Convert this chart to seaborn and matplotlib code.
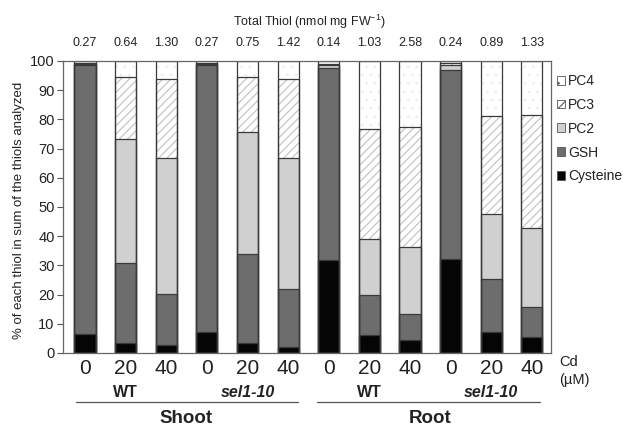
import matplotlib
matplotlib.use("Agg")
import matplotlib.pyplot as plt
from matplotlib.patches import Patch
import seaborn as sns
import pandas as pd
import numpy as np

#  Data (percent of each thiol)
bar_ids = ["S_WT_0", "S_WT_20", "S_WT_40", "S_sel_0", "S_sel_20", "S_sel_40",
           "R_WT_0", "R_WT_20", "R_WT_40", "R_sel_0", "R_sel_20", "R_sel_40"]
cd_labels = ["0", "20", "40", "0", "20", "40", "0", "20", "40", "0", "20", "40"]
total_thiol = ["0.27", "0.64", "1.30", "0.27", "0.75", "1.42",
               "0.14", "1.03", "2.58", "0.24", "0.89", "1.33"]

cysteine = [6.4, 3.3, 2.6, 7.1, 3.3, 2.2, 31.8, 6.2, 4.5, 32.3, 7.1, 5.4]
gsh      = [92.1, 27.4, 17.6, 91.4, 30.5, 19.6, 65.9, 13.7, 8.9, 64.6, 18.2, 10.2]
pc2      = [0.5, 42.5, 46.7, 0.5, 41.8, 45.1, 0.8, 19.1, 23.0, 1.7, 22.3, 27.2]
pc3      = [0.3, 21.4, 26.8, 0.3, 19.0, 26.8, 0.5, 37.6, 41.1, 0.6, 33.7, 38.7]
pc4      = [0.7, 5.4, 6.3, 0.7, 5.4, 6.3, 1.0, 23.4, 22.5, 0.8, 18.7, 18.5]

df = pd.DataFrame({"bar": bar_ids, "Cysteine": cysteine, "GSH": gsh,
                   "PC2": pc2, "PC3": pc3, "PC4": pc4})
layers = ["Cysteine", "GSH", "PC2", "PC3", "PC4"]
cum = df[layers].cumsum(axis=1)
cum["bar"] = df["bar"]

#  Style
sns.set_theme(style="white")
plt.rcParams["font.family"] = ["Liberation Sans", "DejaVu Sans"]
plt.rcParams["hatch.linewidth"] = 0.8
plt.rcParams["text.color"] = "#222222"
plt.rcParams["xtick.color"] = "#222222"
plt.rcParams["ytick.color"] = "#222222"
plt.rcParams["axes.labelcolor"] = "#222222"

face = {"Cysteine": "#050505", "GSH": "#6d6d6d", "PC2": "#d0d0d0",
        "PC3": "#ffffff", "PC4": "#ffffff"}
hatch = {"Cysteine": None, "GSH": None, "PC2": None, "PC3": "////", "PC4": ".."}
hcol = {"Cysteine": "#050505", "GSH": "#6d6d6d", "PC2": "#d0d0d0",
        "PC3": "#c0c0c0", "PC4": "#eeeeee"}
edge = "#3a3a3a"

fig = plt.figure(figsize=(6.23, 4.28), dpi=100)
ax = fig.add_axes([63 / 623, 1 - 353 / 428, 488 / 623, 292 / 428])

# filled layers, drawn from the top cumulative down
for lay in layers[::-1]:
    sns.barplot(data=cum, x="bar", y=lay, order=bar_ids, color=face[lay],
                saturation=1, errorbar=None, width=0.52, hatch=hatch[lay],
                edgecolor=hcol[lay], linewidth=0, ax=ax)
# outlines
for lay in layers[::-1]:
    sns.barplot(data=cum, x="bar", y=lay, order=bar_ids, color=edge,
                saturation=1, errorbar=None, width=0.52, fill=False,
                linewidth=0.9, ax=ax)

ax.set_xlim(-0.54, 11.47)
ax.set_ylim(0, 100)
ax.set_yticks(np.arange(0, 101, 10))
ax.tick_params(axis="y", labelsize=10.5, length=4, width=0.8, color="#555555",
               left=True, pad=2)
ax.set_xticks(range(len(bar_ids)))
ax.set_xticklabels(cd_labels, fontsize=15)
ax.tick_params(axis="x", length=0, pad=4)
for sp in ax.spines.values():
    sp.set_color("#666666")
    sp.set_linewidth(0.9)
ax.set_xlabel("")
ax.set_ylabel("% of each thiol in sum of the thiols analyzed", fontsize=9.5)
ax.yaxis.set_label_coords(-0.078, 0.49)

tr = ax.get_xaxis_transform()
for i, t in enumerate(total_thiol):
    ax.text(i, 1.062, t, transform=tr, ha="center", va="center", fontsize=9)
ax.text(0.505, 1.134, "Total Thiol (nmol mg FW$^{\\mathregular{-1}}$)",
        transform=ax.transAxes, ha="center", va="center", fontsize=9)

# genotype / tissue labels
for x, s, st in [(1, "WT", "normal"), (4, "sel1-10", "italic"),
                 (7, "WT", "normal"), (10, "sel1-10", "italic")]:
    ax.text(x, -0.134, s, transform=tr, ha="center", va="center", fontsize=11.5,
            fontweight="bold", fontstyle=st)
for x0, x1, xc, s in [(-0.22, 5.24, 2.5, "Shoot"), (5.72, 11.2, 8.5, "Root")]:
    ax.plot([x0, x1], [-0.168, -0.168], transform=tr, color="#555555",
            linewidth=0.9, clip_on=False)
    ax.text(xc, -0.225, s, transform=tr, ha="center", va="center",
            fontsize=13.5, fontweight="bold")
fig.text(559 / 623, 1 - 362 / 428, "Cd", fontsize=10.5, va="center", ha="left")
fig.text(559 / 623, 1 - 380 / 428, "(µM)", fontsize=10.5, va="center", ha="left")

# legend
handles = [Patch(facecolor=face[l], edgecolor="#555555", hatch=hatch[l],
                 linewidth=0.6, label=l) for l in layers[::-1]]
ax.legend(handles=handles, loc="upper left", frameon=False,
          bbox_to_anchor=(557 / 623, 1 - 74 / 428), bbox_transform=fig.transFigure,
          borderaxespad=0, borderpad=0, handlelength=0.6, handleheight=0.6,
          handletextpad=0.2, labelspacing=0.71, fontsize=10)

plt.savefig("out.png", dpi=100)
plt.close()
